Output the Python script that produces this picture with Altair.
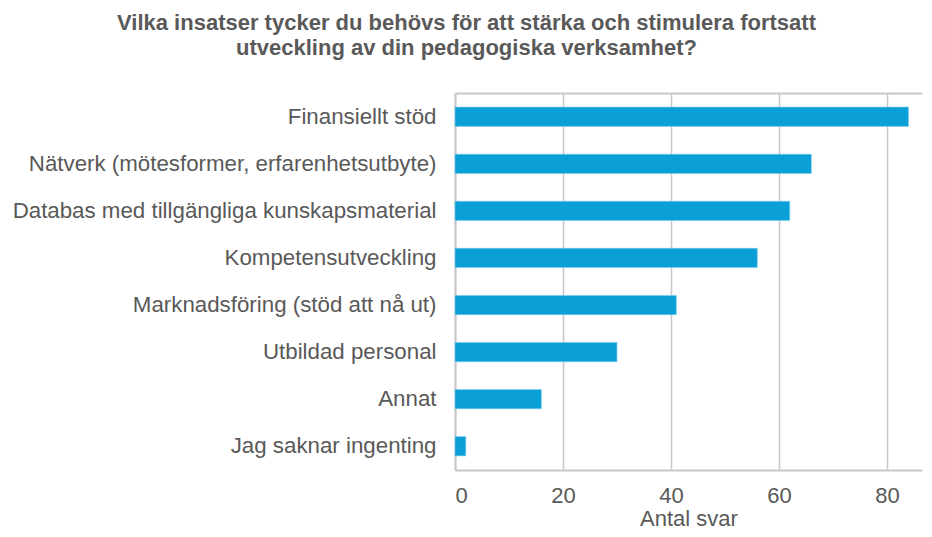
import altair as alt
import pandas as pd

categories = [
    "Finansiellt stöd",
    "Nätverk (mötesformer, erfarenhetsutbyte)",
    "Databas med tillgängliga kunskapsmaterial",
    "Kompetensutveckling",
    "Marknadsföring (stöd att nå ut)",
    "Utbildad personal",
    "Annat",
    "Jag saknar ingenting",
]
values = [84, 66, 62, 56, 41, 30, 16, 2]
x_ticks = [0, 20, 40, 60, 80]

df = pd.DataFrame({"cat": categories, "val": values})

TXT = "#595959"
GRID = "#C8C8C8"
BAR = "#0A9FD6"

xscale = alt.Scale(domain=[0, 86.5], nice=False, zero=True)

bars = alt.Chart(df).mark_bar(color=BAR, stroke="#7ECDEB", strokeWidth=0.6).encode(
    y=alt.Y("cat:N", sort=categories, title=None,
            scale=alt.Scale(paddingInner=0.59, paddingOuter=0.3),
            axis=alt.Axis(ticks=False, labelFontSize=22.3, labelColor=TXT,
                          labelPadding=19, domainColor=GRID, domainWidth=2,
                          labelFont="Liberation Sans", labelLimit=500)),
    x=alt.X("val:Q", scale=xscale, title="Antal svar",
            axis=alt.Axis(values=x_ticks, ticks=False, labelFontSize=22,
                          labelColor=TXT, labelPadding=15, domainColor=GRID,
                          domainWidth=2, gridColor=GRID, gridWidth=1.5,
                          titleFontSize=22, titleColor=TXT, titleFontWeight="normal",
                          titleFont="Liberation Sans", labelFont="Liberation Sans",
                          titlePadding=2)),
)

top = alt.Chart(df).mark_rule(opacity=0).encode(
    x=alt.X("val:Q", scale=xscale, title=None,
            axis=alt.Axis(orient="top", labels=False, ticks=False, grid=False,
                          domainColor=GRID, domainWidth=2)),
)

chart = alt.layer(bars, top).resolve_axis(x="independent").properties(
    width=467,
    height=377,
    autosize=alt.AutoSizeParams(type="none"),
    padding={"left": 447, "top": 85, "right": 2, "bottom": 59},
    title=alt.TitleParams(
        text=["Vilka insatser tycker du behövs för att stärka och stimulera fortsatt",
              "utveckling av din pedagogiska verksamhet?"],
        font="Liberation Sans",
        fontSize=22,
        fontWeight="bold",
        color=TXT,
        anchor="middle",
        dx=-222,
        offset=33,
        lineHeight=25,
    ),
).configure_view(stroke=None)

chart.save("out.html", embed_options={"renderer": "svg", "actions": False})
